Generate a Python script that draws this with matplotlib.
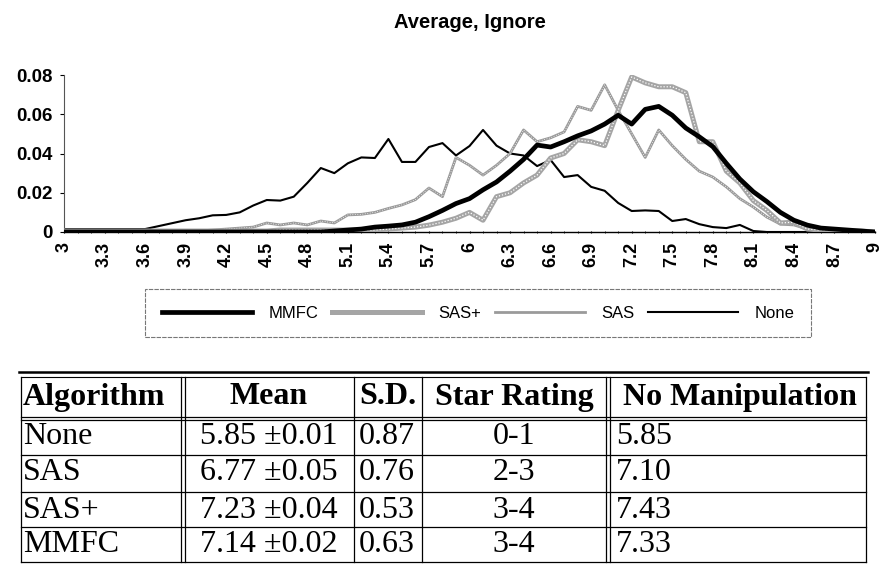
import numpy as np
import matplotlib
matplotlib.use('Agg')
import matplotlib.pyplot as plt

# --- data (bins of 0.1 from 3.0 to 9.0) ---
bins = [3.0, 3.1, 3.2, 3.3, 3.4, 3.5, 3.6, 3.7, 3.8, 3.9,
        4.0, 4.1, 4.2, 4.3, 4.4, 4.5, 4.6, 4.7, 4.8, 4.9,
        5.0, 5.1, 5.2, 5.3, 5.4, 5.5, 5.6, 5.7, 5.8, 5.9,
        6.0, 6.1, 6.2, 6.3, 6.4, 6.5, 6.6, 6.7, 6.8, 6.9,
        7.0, 7.1, 7.2, 7.3, 7.4, 7.5, 7.6, 7.7, 7.8, 7.9,
        8.0, 8.1, 8.2, 8.3, 8.4, 8.5, 8.6, 8.7, 8.8, 8.9, 9.0]

none_vals = [0.0015, 0.0015, 0.0015, 0.0015, 0.0015, 0.0015, 0.0015, 0.003, 0.0045, 0.006,
             0.007, 0.0085, 0.0087, 0.010, 0.0135, 0.0163, 0.016, 0.018, 0.025, 0.0326,
             0.030, 0.035, 0.038, 0.0377, 0.0474, 0.0357, 0.0357, 0.0433, 0.0453, 0.039,
             0.0438, 0.052, 0.044, 0.040, 0.039, 0.0336, 0.0367, 0.028, 0.029, 0.023,
             0.021, 0.0148, 0.0107, 0.011, 0.0107, 0.0056, 0.0066, 0.004, 0.0025, 0.002,
             0.0036, 0.0005, 0.0, 0.0, 0.0, 0.0, 0.0, 0.0, 0.0, 0.0, 0.0]

sas_vals = [0.0005, 0.0005, 0.0005, 0.0005, 0.0005, 0.0005, 0.0005, 0.0005, 0.0005, 0.0005,
            0.0005, 0.001, 0.0015, 0.002, 0.0025, 0.0046, 0.0036, 0.0046, 0.0036, 0.0056,
            0.0046, 0.0087, 0.009, 0.010, 0.012, 0.0138, 0.0165, 0.0224, 0.018, 0.038,
            0.034, 0.029, 0.034, 0.040, 0.052, 0.046, 0.048, 0.051, 0.064, 0.062,
            0.075, 0.062, 0.050, 0.038, 0.052, 0.044, 0.037, 0.031, 0.028, 0.023,
            0.017, 0.0127, 0.0076, 0.004, 0.0036, 0.0015, 0.001, 0.0005, 0.0005, 0.0, 0.0]

sasp_vals = [0.0005, 0.0005, 0.0005, 0.0005, 0.0005, 0.0005, 0.0005, 0.0005, 0.0005, 0.0005,
             0.0005, 0.0005, 0.0005, 0.0005, 0.0005, 0.0005, 0.001, 0.001, 0.001, 0.001,
             0.001, 0.001, 0.001, 0.001, 0.0015, 0.002, 0.0025, 0.0035, 0.005, 0.007,
             0.010, 0.006, 0.018, 0.020, 0.025, 0.029, 0.0377, 0.040, 0.047, 0.046,
             0.044, 0.062, 0.079, 0.076, 0.074, 0.074, 0.071, 0.046, 0.046, 0.031,
             0.025, 0.016, 0.011, 0.0046, 0.005, 0.0015, 0.001, 0.001, 0.0005, 0.0005, 0.0]

mmfc_vals = [0.0, 0.0, 0.0, 0.0, 0.0, 0.0, 0.0, 0.0, 0.0, 0.0,
             0.0, 0.0, 0.0, 0.0, 0.0, 0.0, 0.0, 0.0, 0.0, 0.0,
             0.0005, 0.001, 0.0015, 0.0025, 0.003, 0.0036, 0.005, 0.0078, 0.011, 0.0145,
             0.017, 0.0215, 0.0255, 0.031, 0.037, 0.0443, 0.0433, 0.046, 0.049, 0.0515,
             0.055, 0.0595, 0.055, 0.0625, 0.064, 0.0595, 0.053, 0.0485, 0.0435, 0.035,
             0.027, 0.0205, 0.0155, 0.010, 0.006, 0.0035, 0.002, 0.0015, 0.001, 0.0005, 0.0]

xticks = [3, 3.3, 3.6, 3.9, 4.2, 4.5, 4.8, 5.1, 5.4, 5.7, 6, 6.3, 6.6, 6.9,
          7.2, 7.5, 7.8, 8.1, 8.4, 8.7, 9]
xtick_labels = ['3', '3.3', '3.6', '3.9', '4.2', '4.5', '4.8', '5.1', '5.4', '5.7', '6',
                '6.3', '6.6', '6.9', '7.2', '7.5', '7.8', '8.1', '8.4', '8.7', '9']
yticks = [0, 0.02, 0.04, 0.06, 0.08]
ytick_labels = ['0', '0.02', '0.04', '0.06', '0.08']

# table
tbl_header = ['Algorithm', 'Mean', 'S.D.', 'Star Rating', 'No Manipulation']
algorithms = ['None', 'SAS', 'SAS+', 'MMFC']
means = ['5.85 \u00b10.01', '6.77 \u00b10.05', '7.23 \u00b10.04', '7.14 \u00b10.02']
sds = ['0.87', '0.76', '0.53', '0.63']
stars = ['0-1', '2-3', '3-4', '3-4']
no_manip = ['5.85', '7.10', '7.43', '7.33']

SANS = ['Liberation Sans', 'DejaVu Sans']
SERIF = ['Liberation Serif', 'DejaVu Serif']
W, H = 885, 566

fig = plt.figure(figsize=(8.85, 5.66), dpi=100, facecolor='white')

# --- chart ---
ax = fig.add_axes([64 / W, 1 - 232 / H, (875 - 64) / W, (232 - 75) / H])
ax.plot(bins, none_vals, color='black', lw=1.5, label='None', zorder=2)
ax.plot(bins, sas_vals, color='#9a9a9a', lw=2.0, label='SAS', zorder=3)
ax.plot(bins, sas_vals, color='white', lw=0.6, ls=(0, (1, 2)), zorder=3.1)
ax.plot(bins, sasp_vals, color='#a5a5a5', lw=3.6, label='SAS+', zorder=4)
ax.plot(bins, sasp_vals, color='white', lw=0.9, ls=(0, (1, 1.5)), zorder=4.1)
ax.plot(bins, mmfc_vals, color='black', lw=3.4, label='MMFC', zorder=5)

ax.set_xlim(3, 9)
ax.set_ylim(0, 0.08)
ax.set_xticks(xticks)
ax.set_xticklabels(xtick_labels, rotation=90, fontsize=13, fontweight='bold',
                   family=SANS, va='top')
ax.set_xticks(bins, minor=True)
ax.set_yticks(yticks)
ax.set_yticklabels(ytick_labels, fontsize=13.5, fontweight='bold', family=SANS)
ax.tick_params(axis='x', which='both', length=2, direction='inout', pad=6)
ax.tick_params(axis='y', length=3, direction='out', pad=5)
for s in ['top', 'right']:
    ax.spines[s].set_visible(False)
ax.spines['left'].set_linestyle((0, (2, 1)))
ax.spines['left'].set_color('#555555')
ax.spines['left'].set_linewidth(0.8)
ax.spines['bottom'].set_linewidth(1.0)
ax.set_title('Average, Ignore', fontsize=14.5, fontweight='bold', family=SANS, pad=34)

handles, labels = ax.get_legend_handles_labels()
order = [3, 2, 1, 0]
leg = ax.legend([handles[i] for i in order], [labels[i] for i in order],
                loc='center', bbox_to_anchor=(478 / W, 1 - 313 / H),
                bbox_transform=fig.transFigure, ncol=4,
                prop={'family': SANS, 'size': 12},
                handlelength=5.4, handletextpad=1.0, columnspacing=0.8,
                frameon=True, fancybox=False, borderpad=1.0)
leg.get_frame().set_edgecolor('#555555')
leg.get_frame().set_linewidth(0.8)
leg.get_frame().set_linestyle((0, (4, 1)))

# --- table (drawn in pixel space) ---
tb = fig.add_axes([0, 0, 1, 1], zorder=-1)
tb.set_xlim(0, W)
tb.set_ylim(H, 0)
tb.axis('off')

x_left, x_right = 21, 866
y_top, y_head = 377, 417
row_lines = [455, 492, 527, 562]
tb.plot([x_left - 2, x_right + 2], [y_top - 5, y_top - 5], color='black', lw=1.8)
tb.plot([x_left, x_right], [y_top, y_top], color='black', lw=0.8)
tb.plot([x_left, x_right], [y_head, y_head], color='black', lw=0.9)
tb.plot([x_left, x_right], [y_head + 3, y_head + 3], color='black', lw=0.9)
for yl in row_lines:
    tb.plot([x_left, x_right], [yl, yl], color='black', lw=0.9)
for xv in [x_left, 181, 185, 354, 422, 606, 610, x_right]:
    tb.plot([xv, xv], [y_top, row_lines[-1]], color='black', lw=0.9)

fs = 23
head_y = 397
tb.text(23, head_y, tbl_header[0], ha='left', va='center', fontsize=fs,
        fontweight='bold', family=SERIF)
tb.text(269, head_y, tbl_header[1], ha='center', va='center', fontsize=fs,
        fontweight='bold', family=SERIF)
tb.text(388, head_y, tbl_header[2], ha='center', va='center', fontsize=fs,
        fontweight='bold', family=SERIF)
tb.text(514, head_y, tbl_header[3], ha='center', va='center', fontsize=fs,
        fontweight='bold', family=SERIF)
tb.text(740, head_y, tbl_header[4], ha='center', va='center', fontsize=fs,
        fontweight='bold', family=SERIF)

row_y = [436, 473, 510, 545]
for i, yy in enumerate(row_y):
    tb.text(23, yy, algorithms[i], ha='left', va='center', fontsize=fs, family=SERIF)
    tb.text(269, yy, means[i], ha='center', va='center', fontsize=fs, family=SERIF)
    tb.text(359, yy, sds[i], ha='left', va='center', fontsize=fs, family=SERIF)
    tb.text(514, yy, stars[i], ha='center', va='center', fontsize=fs, family=SERIF)
    tb.text(616, yy, no_manip[i], ha='left', va='center', fontsize=fs, family=SERIF)

fig.savefig('out.png', dpi=100, facecolor='white')
